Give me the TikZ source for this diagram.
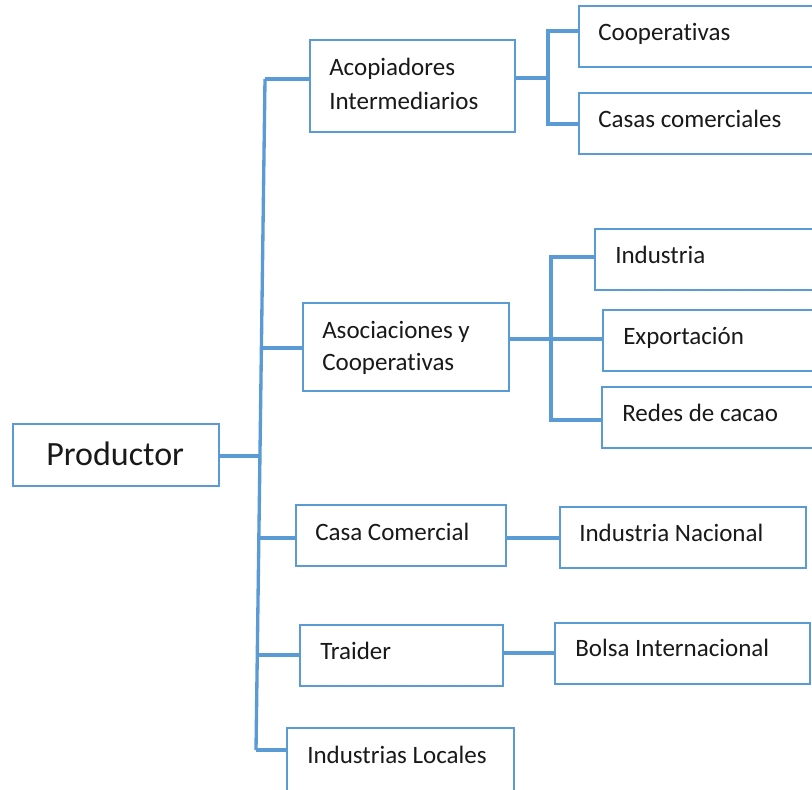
\documentclass[tikz,border=0pt]{standalone}
\usepackage{fontspec}
\setmainfont{Carlito}[RawFeature={-liga;-clig;-dlig;-calt}]
\definecolor{lnblue}{HTML}{5B9BD5}
\newcommand{\nolig}{\kern0pt}
\begin{document}
\begin{tikzpicture}[x=0.75pt,y=-0.75pt,
 box/.style={draw=lnblue,line width=1.7pt,inner sep=0pt,outer sep=0pt,anchor=north west},
 conn/.style={draw=lnblue,line width=2.5pt},
 lbl/.style={anchor=base west,inner sep=0pt,text=black!90,font=\fontsize{18.75}{22}\selectfont},
 big/.style={lbl,font=\fontsize{25.5}{30}\selectfont}]
\path[clip] (0,0) rectangle (812,789);
\fill[white] (0,0) rectangle (812,789);
% boxes
\node[box,minimum width=154.5pt,minimum height=46.5pt] (prod) at (13,424) {};
\node[box,minimum width=153.75pt,minimum height=69pt] (aco) at (310,40) {};
\node[box,minimum width=188.25pt,minimum height=45.75pt] (coop) at (579,6) {};
\node[box,minimum width=188.25pt,minimum height=45.75pt] (casas) at (579,93) {};
\node[box,minimum width=154.5pt,minimum height=66pt] (asoc) at (303,303) {};
\node[box,minimum width=176.25pt,minimum height=45.75pt] (indu) at (595,229) {};
\node[box,minimum width=170.25pt,minimum height=45.75pt] (expo) at (603,310) {};
\node[box,minimum width=171pt,minimum height=45.75pt] (redes) at (602,387) {};
\node[box,minimum width=157.5pt,minimum height=45.75pt] (cc) at (296,505) {};
\node[box,minimum width=184.5pt,minimum height=45.75pt] (inac) at (560,507) {};
\node[box,minimum width=152.25pt,minimum height=45.75pt] (tra) at (300,625) {};
\node[box,minimum width=191.25pt,minimum height=45.75pt] (bolsa) at (555,623) {};
\node[box,minimum width=170.25pt,minimum height=54pt] (loc) at (287,728) {};
% labels
\node[big] (prodT) at (46,465) {Productor};
\node[lbl] (acoT1) at (329,75) {Acopiadores};
\node[lbl] (acoT2) at (329,109) {Intermediarios};
\node[lbl] (coopT) at (598,40) {Cooperat\nolig ivas};
\node[lbl] (casasT) at (598,127) {Casas comerciales};
\node[lbl] (asocT1) at (322,338) {Asociaciones y};
\node[lbl] (asocT2) at (322,370) {Cooperat\nolig ivas};
\node[lbl] (induT) at (615,263) {Industria};
\node[lbl] (expoT) at (623,344) {Exportación};
\node[lbl] (redesT) at (622,421) {Redes de cacao};
\node[lbl] (ccT) at (315,540) {Casa Comercial};
\node[lbl] (inacT) at (579,541) {Industria Nacional};
\node[lbl] (traT) at (320,659) {Traider};
\node[lbl] (bolsaT) at (575,656) {Bolsa Internacional};
\node[lbl] (locT) at (307,763) {Industrias Locales};
% trunk
\coordinate (t1) at (265,79);
\coordinate (t2) at (262,348);
\coordinate (tP) at (260.5,456);
\coordinate (t3) at (259.5,538);
\coordinate (t4) at (258,655);
\coordinate (t5) at (256,750);
\draw[conn] (t1) -- (t5);
\draw[conn] (tP -| prod.east) -- (tP);
\draw[conn] (t1) -- (t1 -| aco.west);
\draw[conn] (t2) -- (t2 -| asoc.west);
\draw[conn] (t3) -- (t3 -| cc.west);
\draw[conn] (t4) -- (t4 -| tra.west);
\draw[conn] (t5) -- (t5 -| loc.west);
% acopiadores branches
\coordinate (aJ) at (548,78);
\coordinate (aT) at (548,31);
\coordinate (aB) at (548,124);
\draw[conn] (aJ -| aco.east) -- (aJ);
\draw[conn] (aT -| coop.west) -- (aT) -- (aB) -- (aB -| casas.west);
% asociaciones branches
\coordinate (sJ) at (551,339);
\coordinate (sT) at (551,257);
\coordinate (sB) at (551,420);
\draw[conn] (sJ -| asoc.east) -- (sJ -| expo.west);
\draw[conn] (sT -| indu.west) -- (sT) -- (sB) -- (sB -| redes.west);
% single links
\coordinate (cJ) at (530,538);
\coordinate (bJ) at (530,653);
\draw[conn] (cJ -| cc.east) -- (cJ -| inac.west);
\draw[conn] (bJ -| tra.east) -- (bJ -| bolsa.west);
\end{tikzpicture}
\end{document}
